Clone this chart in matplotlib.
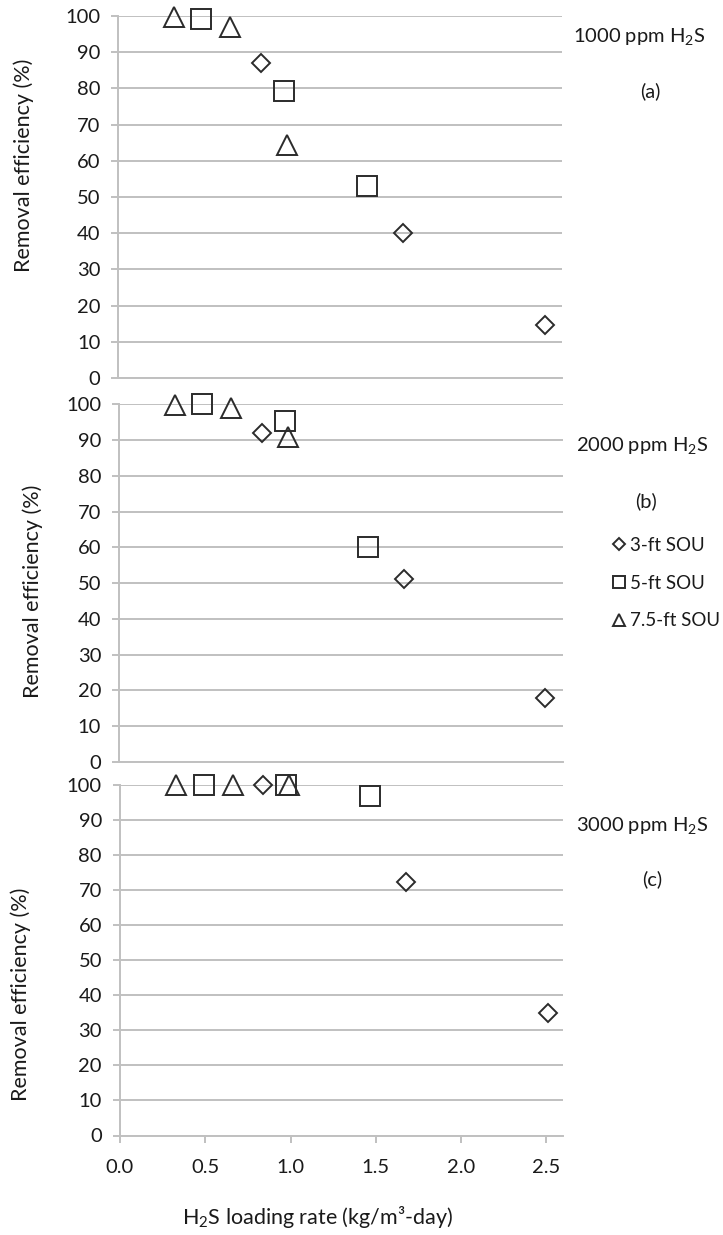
import matplotlib
matplotlib.use('Agg')
import matplotlib.pyplot as plt

plt.rcParams['font.family'] = ['Lato', 'DejaVu Sans']
plt.rcParams['mathtext.fontset'] = 'custom'
plt.rcParams['mathtext.rm'] = 'Lato'
plt.rcParams['mathtext.it'] = 'Lato:italic'
plt.rcParams['mathtext.bf'] = 'Lato:bold'

# ---------------- data ----------------
series_labels = ['3-ft SOU', '5-ft SOU', '7.5-ft SOU']
panel_titles = ['1000 ppm H$_2$S', '2000 ppm H$_2$S', '3000 ppm H$_2$S']
panel_tags = ['(a)', '(b)', '(c)']
x_ticks = [0.0, 0.5, 1.0, 1.5, 2.0, 2.5]
x_ticklabels = ['0.0', '0.5', '1.0', '1.5', '2.0', '2.5']
y_ticks = [0, 10, 20, 30, 40, 50, 60, 70, 80, 90, 100]
y_label = 'Removal efficiency (%)'
x_label = 'H$_2$S loading rate (kg/m³-day)'

# (a) 1000 ppm
a_3ft_x = [0.835, 1.67, 2.50]
a_3ft_y = [87, 40, 14.6]
a_5ft_x = [0.485, 0.97, 1.46]
a_5ft_y = [99.3, 79.3, 53]
a_75ft_x = [0.325, 0.655, 0.99]
a_75ft_y = [99.8, 97, 64.5]

# (b) 2000 ppm
b_3ft_x = [0.835, 1.67, 2.50]
b_3ft_y = [91.9, 51.2, 17.8]
b_5ft_x = [0.485, 0.97, 1.46]
b_5ft_y = [100, 95.2, 60]
b_75ft_x = [0.325, 0.655, 0.99]
b_75ft_y = [99.8, 99, 90.9]

# (c) 3000 ppm
c_3ft_x = [0.84, 1.68, 2.51]
c_3ft_y = [100, 72.4, 34.9]
c_5ft_x = [0.49, 0.975, 1.465]
c_5ft_y = [100, 100, 96.8]
c_75ft_x = [0.33, 0.66, 0.99]
c_75ft_y = [100, 100, 100]

panels = [
    [(a_3ft_x, a_3ft_y), (a_5ft_x, a_5ft_y), (a_75ft_x, a_75ft_y)],
    [(b_3ft_x, b_3ft_y), (b_5ft_x, b_5ft_y), (b_75ft_x, b_75ft_y)],
    [(c_3ft_x, c_3ft_y), (c_5ft_x, c_5ft_y), (c_75ft_x, c_75ft_y)],
]

# ---------------- style ----------------
W, H = 723, 1235
GRID = '#c0c0c0'
EDGE = '#2b2b2b'
TXT = '#1a1a1a'
markers = ['D', 's', '^']
msizes = [9.6, 14, 14]
legend_scale = 0.6
FS_TICK = 14.5
FS_LABEL = 15.5
FS_TEXT = 14.5
FS_LEG = 13.5

# axes boxes in pixels: left, right, top(100), bottom(0)
boxes = [(118.3, 561.7, 16, 378), (119.2, 562.5, 404.3, 762), (120, 563.3, 785, 1135.5)]
ylabel_pos = [(24, 165), (33, 591), (21, 994)]
title_pos = [(639, 42), (642, 451), (642, 831)]
tag_pos = [(650, 91), (646, 501), (652, 879)]

fig = plt.figure(figsize=(W / 100, H / 100), dpi=100)
axes = []
for i, (l, r, t, b) in enumerate(boxes):
    ax = fig.add_axes([l / W, 1 - b / H, (r - l) / W, (b - t) / H])
    axes.append(ax)
    ax.set_xlim(0, 2.6)
    ax.set_ylim(0, 100)
    ax.set_yticks(y_ticks)
    ax.set_yticklabels([str(v) for v in y_ticks])
    ax.grid(axis='y', color=GRID, lw=1.4)
    ax.set_axisbelow(True)
    for s in ['top', 'right']:
        ax.spines[s].set_visible(False)
    for s in ['left', 'bottom']:
        ax.spines[s].set_color(GRID)
        ax.spines[s].set_linewidth(1.4)
    ax.tick_params(axis='y', length=5, width=1.4, color=GRID, pad=8,
                   labelsize=FS_TICK, labelcolor=TXT)
    ax.set_xticks(x_ticks)
    if i == 2:
        ax.set_xticklabels(x_ticklabels)
        ax.tick_params(axis='x', length=5, width=1.4, color=GRID, pad=12,
                       labelsize=FS_TICK, labelcolor=TXT)
    else:
        ax.tick_params(axis='x', length=0, labelbottom=False)

    for (xs, ys), m, ms, lab in zip(panels[i], markers, msizes, series_labels):
        ax.plot(xs, ys, ls='none', marker=m, ms=ms, mfc='none', mec=EDGE,
                mew=1.4, clip_on=False, zorder=3, label=lab)

    ax.set_ylabel(y_label, fontsize=FS_LABEL, color=TXT)
    ax.yaxis.set_label_coords(ylabel_pos[i][0] / W, 1 - ylabel_pos[i][1] / H,
                              transform=fig.transFigure)
    ax.yaxis.label.set_va('center')
    fig.text(title_pos[i][0] / W, 1 - title_pos[i][1] / H, panel_titles[i],
             ha='center', va='baseline', fontsize=FS_TEXT, color=TXT)
    fig.text(tag_pos[i][0] / W, 1 - tag_pos[i][1] / H, panel_tags[i],
             ha='center', va='center', fontsize=FS_TEXT, color=TXT)

axes[2].set_xlabel(x_label, fontsize=FS_LABEL, color=TXT)
axes[2].xaxis.set_label_coords(317 / W, 1 - 1217 / H, transform=fig.transFigure)
axes[2].xaxis.label.set_va('center')

handles, labels = axes[1].get_legend_handles_labels()
fig.legend(handles, labels, loc='upper left',
           bbox_to_anchor=(613 / W, 1 - 537 / H), frameon=False,
           markerscale=legend_scale, handlelength=0.65, handletextpad=0.25,
           labelspacing=1.1, borderpad=0, borderaxespad=0, fontsize=FS_LEG,
           labelcolor=TXT)

fig.savefig('out.png', dpi=100, facecolor='white')
